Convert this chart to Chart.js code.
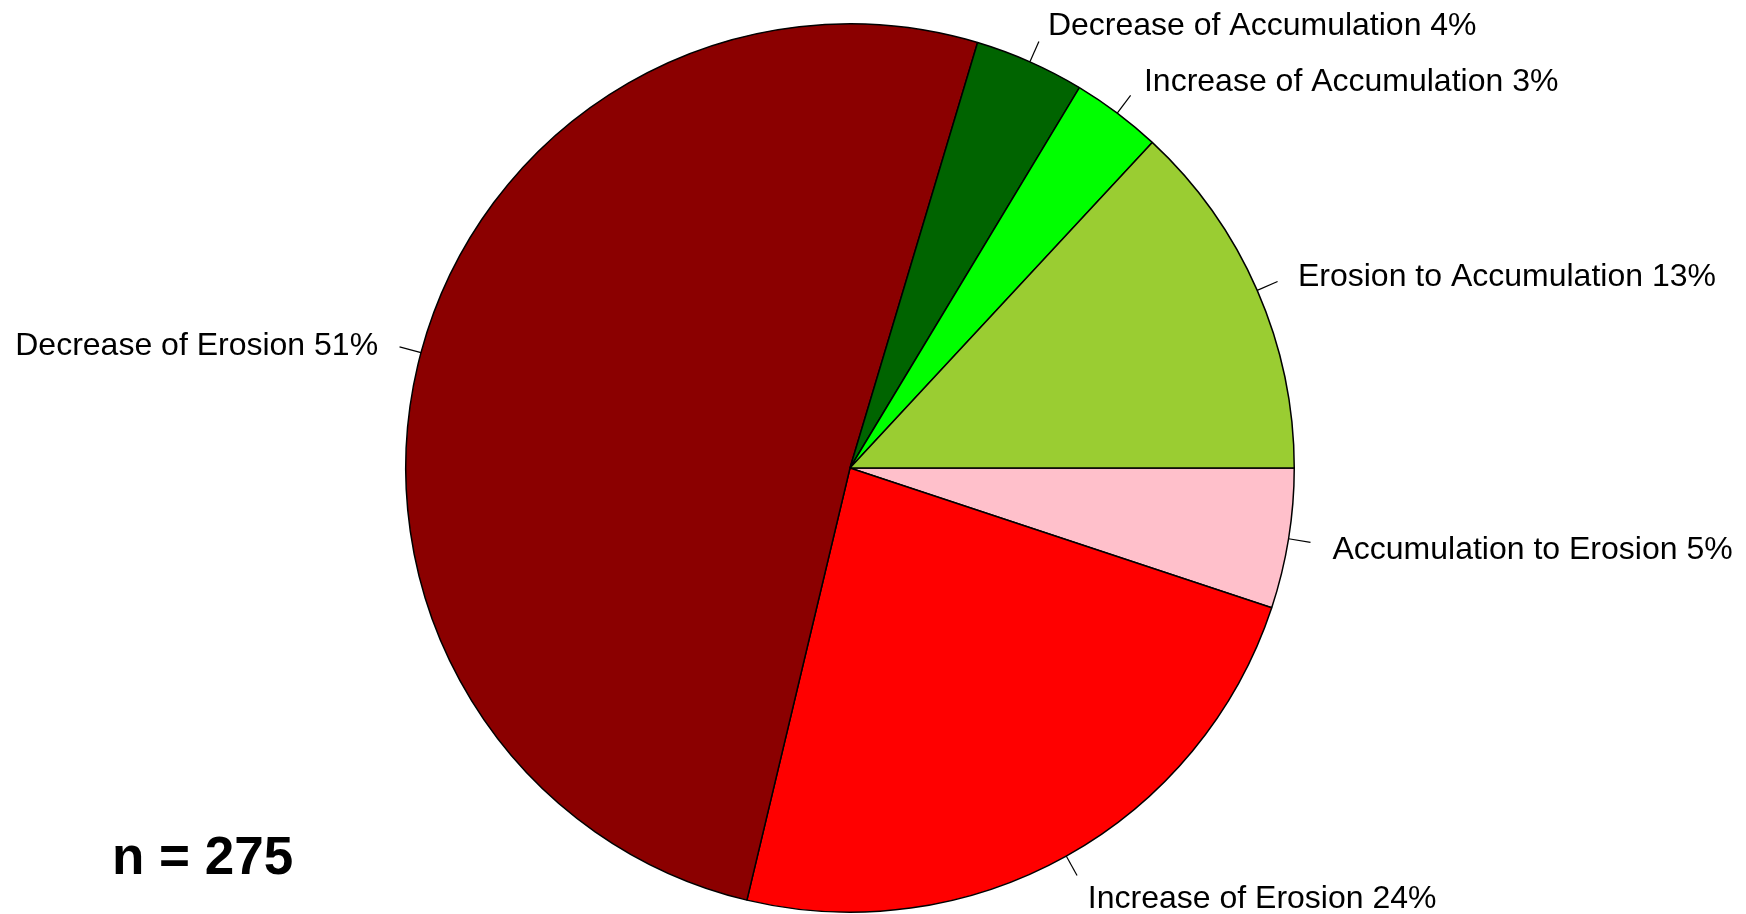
<!DOCTYPE html>
<html>
<head>
<meta charset="utf-8">
<title>Pie chart</title>
<script src="https://cdn.jsdelivr.net/npm/chart.js@4"></script>
<style>
  html, body { margin: 0; padding: 0; background: #ffffff; }
  #wrap { width: 1746px; height: 914px; position: relative; }
</style>
</head>
<body>
<div id="wrap"><canvas id="pie" width="1746" height="914"></canvas></div>
<script>
// Categories in the order R draws them (counter-clockwise from 3 o'clock)
const categories = [
    'Erosion to Accumulation',
    'Increase of Accumulation',
    'Decrease of Accumulation',
    'Decrease of Erosion',
    'Increase of Erosion',
    'Accumulation to Erosion'
];
// Counts per category (n = 275)
const counts = [36, 9, 11, 140, 65, 14];
const sliceColors = ['#9ACD32', '#00FF00', '#006400', '#8B0000', '#FF0000', '#FFC0CB'];
const totalLabel = 'n = 275';

const total = counts.reduce((a, b) => a + b, 0);
const labelTexts = categories.map((c, i) => c + ' ' + Math.round(counts[i] / total * 100) + '%');

// Chart.js goes clockwise, so reverse the order and start at 3 o'clock
const order = counts.map((_, i) => i).reverse();

const labelSize = 32;

// Draws R-style labels with small tick marks outside the pie
const outsideLabels = {
    id: 'outsideLabels',
    afterDatasetsDraw(chart) {
        const ctx = chart.ctx;
        const meta = chart.getDatasetMeta(0);
        ctx.save();
        ctx.font = labelSize + 'px "Liberation Sans", Arial, sans-serif';
        ctx.textBaseline = 'alphabetic';
        ctx.fillStyle = '#000000';
        ctx.strokeStyle = '#000000';
        ctx.lineWidth = 1.2;
        meta.data.forEach((arc, i) => {
            const mid = (arc.startAngle + arc.endAngle) / 2;
            const r = arc.outerRadius;
            const cx = arc.x, cy = arc.y;
            const cos = Math.cos(mid), sin = Math.sin(mid);
            ctx.beginPath();
            ctx.moveTo(cx + cos * r, cy + sin * r);
            ctx.lineTo(cx + cos * r * 1.05, cy + sin * r * 1.05);
            ctx.stroke();
            ctx.textAlign = cos < 0 ? 'right' : 'left';
            // centre the capitals on the label point, like R's adj = 0.5
            const baseY = cy + sin * r * 1.1 + labelSize * 0.36 + 2;
            ctx.fillText(chart.data.labels[i], cx + cos * r * 1.1, baseY);
        });
        // sample size note
        ctx.font = 'bold 53px "Liberation Sans", Arial, sans-serif';
        ctx.textAlign = 'left';
        ctx.fillText(totalLabel, 112, 874);
        ctx.restore();
    }
};

const chart = new Chart(document.getElementById('pie'), {
    type: 'pie',
    data: {
        labels: order.map(i => labelTexts[i]),
        datasets: [{
            data: order.map(i => counts[i]),
            backgroundColor: order.map(i => sliceColors[i]),
            borderColor: '#000000',
            borderWidth: 1.5
        }]
    },
    options: {
        responsive: false,
        animation: false,
        rotation: 90,
        layout: {
            padding: { left: 405, right: 451, top: 23, bottom: 1 }
        },
        plugins: {
            legend: { display: false },
            tooltip: { enabled: false }
        }
    },
    plugins: [outsideLabels]
});
</script>
</body>
</html>
